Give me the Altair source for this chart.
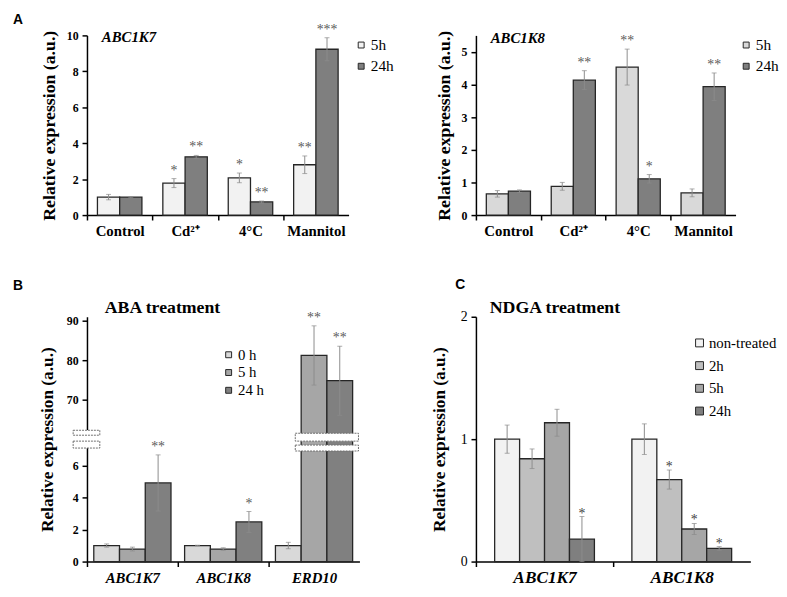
import altair as alt
import pandas as pd

SERIF = "Liberation Serif"
SANS = "Liberation Sans"

# ---------------- data ----------------
stress = ["Control", "Cd²⁺", "4°C", "Mannitol"]
a_times = ["5h", "24h"]

k7_mean_5h = [1.00, 1.78, 2.07, 2.80]
k7_err_5h = [0.15, 0.25, 0.27, 0.49]
k7_sig_5h = ["", "*", "*", "**"]
k7_mean_24h = [1.00, 3.24, 0.73, 9.23]
k7_err_24h = [0.03, 0.08, 0.05, 0.64]
k7_sig_24h = ["", "**", "**", "***"]

k8_mean_5h = [0.65, 0.88, 4.53, 0.68]
k8_err_5h = [0.10, 0.12, 0.55, 0.12]
k8_sig_5h = ["", "", "**", ""]
k8_mean_24h = [0.73, 4.13, 1.11, 3.93]
k8_err_24h = [0.04, 0.29, 0.13, 0.42]
k8_sig_24h = ["", "**", "*", "**"]

aba_genes = ["ABC1K7", "ABC1K8", "ERD10"]
aba_times = ["0 h", "5 h", "24 h"]
aba_mean_0h = [1.00, 1.00, 1.00]
aba_err_0h = [0.10, 0.02, 0.20]
aba_sig_0h = ["", "", ""]
aba_mean_5h = [0.78, 0.78, 81.2]
aba_err_5h = [0.12, 0.08, 7.5]
aba_sig_5h = ["", "", "**"]
aba_mean_24h = [4.90, 2.47, 74.8]
aba_err_24h = [1.75, 0.65, 8.75]
aba_sig_24h = ["**", "*", "**"]

ndga_genes = ["ABC1K7", "ABC1K8"]
ndga_times = ["non-treated", "2h", "5h", "24h"]
ndga_mean_nt = [1.00, 1.00]
ndga_err_nt = [0.115, 0.125]
ndga_sig_nt = ["", ""]
ndga_mean_2h = [0.84, 0.67]
ndga_err_2h = [0.08, 0.078]
ndga_sig_2h = ["", "*"]
ndga_mean_5h = [1.134, 0.266]
ndga_err_5h = [0.11, 0.045]
ndga_sig_5h = ["", "*"]
ndga_mean_24h = [0.183, 0.107]
ndga_err_24h = [0.185, 0.015]
ndga_sig_24h = ["*", "*"]


def long_df(cats, groups, means, errs, sigs):
    rows = []
    for g, m, e, s in zip(groups, means, errs, sigs):
        for c, mv, ev, sv in zip(cats, m, e, s):
            rows.append({"cat": c, "grp": g, "mean": mv, "lo": max(mv - ev, 0), "hi": mv + ev, "sig": sv})
    return pd.DataFrame(rows)


dfA1 = long_df(stress, a_times, [k7_mean_5h, k7_mean_24h], [k7_err_5h, k7_err_24h], [k7_sig_5h, k7_sig_24h])
dfA2 = long_df(stress, a_times, [k8_mean_5h, k8_mean_24h], [k8_err_5h, k8_err_24h], [k8_sig_5h, k8_sig_24h])
dfB = long_df(aba_genes, aba_times, [aba_mean_0h, aba_mean_5h, aba_mean_24h],
              [aba_err_0h, aba_err_5h, aba_err_24h], [aba_sig_0h, aba_sig_5h, aba_sig_24h])
dfC = long_df(ndga_genes, ndga_times, [ndga_mean_nt, ndga_mean_2h, ndga_mean_5h, ndga_mean_24h],
              [ndga_err_nt, ndga_err_2h, ndga_err_5h, ndga_err_24h],
              [ndga_sig_nt, ndga_sig_2h, ndga_sig_5h, ndga_sig_24h])


def y_axis(values, label_size, label_weight, title_size, title_pad, label_expr=None, fmt=None):
    kw = dict(values=values, title="Relative expression (a.u.)", titleFont=SERIF,
              titleFontSize=title_size, titleFontWeight="bold", titleColor="black",
              titlePadding=title_pad, labelFont=SERIF, labelFontSize=label_size,
              labelFontWeight=label_weight, labelColor="black", labelPadding=4,
              domainColor="black", domainWidth=1.5, tickColor="black", tickWidth=1.5,
              tickSize=5, grid=False)
    if label_expr:
        kw["labelExpr"] = label_expr
    if fmt:
        kw["format"] = fmt
    return alt.Axis(**kw)


def grouped_layers(df, cats, groups, colors, width, pad_inner, y_scale, yax,
                   x_label_kw, legend, star_kw, ycols=("mean", "lo", "hi"), transform=None):
    step = width / len(cats)
    bw = step * (1 - pad_inner) / len(groups)
    x = alt.X("cat:N", title=None,
              scale=alt.Scale(type="band", domain=cats, paddingInner=pad_inner, paddingOuter=pad_inner / 2),
              axis=alt.Axis(labelAngle=0, bandPosition=0.5, tickOffset=-step / 2,
                            labelOffset=step / 2, domainColor="black", domainWidth=1.5,
                            tickColor="black", tickWidth=1.5, tickSize=5, labelColor="black",
                            labelFont=SERIF, grid=False, **x_label_kw))
    col = alt.Color("grp:N", scale=alt.Scale(domain=groups, range=colors), legend=legend)
    ym, ylo, yhi = ycols

    def Y(f):
        return alt.Y(f"{f}:Q", scale=y_scale, axis=yax, stack=None)

    base = alt.Chart(df)
    if transform:
        base = base.transform_calculate(**transform)
    layers = []
    n = len(groups)
    for k, g in enumerate(groups):
        off = (k - (n - 1) / 2) * bw
        sub = base.transform_filter(alt.datum.grp == g)
        layers.append(sub.mark_bar(width=bw, xOffset=off, stroke="#262626", strokeWidth=1.3).encode(
            x=x, y=Y(ym), color=col))
    for k, g in enumerate(groups):
        off = (k - (n - 1) / 2) * bw
        sub = base.transform_filter(alt.datum.grp == g)
        layers.append(sub.mark_rule(xOffset=off, color="#8c8c8c", strokeWidth=1).encode(
            x=x, y=Y(ylo), y2=f"{yhi}:Q"))
        for f in (ylo, yhi):
            layers.append(sub.mark_tick(orient="horizontal", size=5, thickness=1, xOffset=off,
                                        color="#8c8c8c").encode(x=x, y=Y(f)))
        layers.append(sub.mark_text(baseline="bottom", font=SERIF, xOffset=off, **star_kw).encode(
            x=x, y=Y(yhi), text="sig:N"))
    return layers


def label(text, x, y, font=SERIF, size=15, weight="bold", style="normal",
          baseline="alphabetic", align="left", color="black"):
    return alt.Chart(pd.DataFrame({"t": [text]})).mark_text(
        font=font, fontSize=size, fontWeight=weight, fontStyle=style,
        baseline=baseline, align=align, color=color).encode(
        text="t:N", x=alt.value(x), y=alt.value(y))


def box(x1, x2, y1, y2, stroke=True):
    kw = dict(fill="white")
    if stroke:
        kw.update(stroke="#6e6e6e", strokeWidth=1, strokeDash=[2, 1])
    return alt.Chart(pd.DataFrame({"b": [0]})).mark_rect(**kw).encode(
        x=alt.value(x1), x2=alt.value(x2), y=alt.value(y1), y2=alt.value(y2))


def legend(x, y, size, font_size, row_pad):
    return alt.Legend(title=None, orient="none", legendX=x, legendY=y, symbolType="square",
                      symbolSize=size, symbolStrokeColor="#262626", symbolStrokeWidth=1,
                      labelFont=SERIF, labelFontSize=font_size, labelColor="black",
                      rowPadding=row_pad, labelOffset=2, padding=0)


star_a = dict(fontSize=14, color="#5a5a5a", dy=-1)
xlab_a = dict(labelFontSize=15, labelFontWeight="bold", labelPadding=4)

# ---------------- Panel A (ABC1K7) ----------------
WA1, HA = 265, 182
A1 = alt.layer(
    *grouped_layers(dfA1, stress, a_times, ["#f2f2f2", "#7f7f7f"], WA1, 0.32,
                    alt.Scale(domain=[0, 10], nice=False),
                    y_axis([0, 2, 4, 6, 8, 10], 12, "bold", 18, 8),
                    xlab_a, legend(270, 2, 36, 15.5, 4.5), star_a),
    label("ABC1K7", 15, 7, style="italic"),
    label("A", -75, -23, font=SANS, size=14, baseline="top"),
).properties(width=WA1, height=HA)

# ---------------- Panel A (ABC1K8) ----------------
WA2 = 263
A2 = alt.layer(
    *grouped_layers(dfA2, stress, a_times, ["#d9d9d9", "#7f7f7f"], WA2, 0.32,
                    alt.Scale(domain=[0, 5.5], nice=False),
                    y_axis([0, 1, 2, 3, 4, 5], 12, "bold", 18, 8),
                    xlab_a, legend(266, 2, 36, 15.5, 4.5), star_a),
    label("ABC1K8", 15, 8, style="italic"),
).properties(width=WA2, height=HA)

# ---------------- Panel B (ABA, broken axis) ----------------
WB, HB = 276, 248
brk = ("datum.{f} <= 30 ? datum.{f} * 16.25 : 124 + (datum.{f} - 60) * 4")
transB = {"tm": brk.format(f="mean"), "tl": brk.format(f="lo"), "th": brk.format(f="hi")}
b_expr = "datum.value < 120 ? round(datum.value / 16.25) : round(60 + (datum.value - 124) / 4)"
B = alt.layer(
    *grouped_layers(dfB, aba_genes, aba_times, ["#d9d9d9", "#a6a6a6", "#808080"], WB, 0.15,
                    alt.Scale(domain=[0, HB], nice=False),
                    y_axis([0, 32.5, 65, 97.5, 164, 204, 244], 12, "bold", 17.5, 10, b_expr),
                    dict(labelFontSize=15, labelFontWeight="bold", labelFontStyle="italic", labelPadding=4),
                    legend(136, 31, 36, 15, 2), star_a, ycols=("tm", "tl", "th"), transform=transB),
    box(-3, 3, 115, 133, stroke=False),
    box(-14, 13, 115, 120),
    box(-14, 13, 126, 133),
    box(211, 275, 118, 126),
    box(211, 275, 130, 136),
    label("ABA treatment", 18, -4, size=18),
    label("B", -75, -38, font=SANS, size=14, baseline="top"),
).properties(width=WB, height=HB)

# ---------------- Panel C (NDGA) ----------------
WC, HC = 278, 248
C = alt.layer(
    *grouped_layers(dfC, ndga_genes, ndga_times, ["#f2f2f2", "#bfbfbf", "#a6a6a6", "#7f7f7f"], WC, 0.273,
                    alt.Scale(domain=[0, 2], nice=False),
                    y_axis([0, 1, 2], 14, "normal", 17.5, 12, fmt=".0f"),
                    dict(labelFontSize=17.5, labelFontWeight="bold", labelFontStyle="italic", labelPadding=2),
                    legend(219, 19, 64, 15, 7), dict(fontSize=14, color="#404040", dy=4)),
    label("NDGA treatment", 14, -4, size=18),
    label("C", -21, -39, font=SANS, size=14, baseline="top"),
).properties(width=WC, height=HC)

chart = alt.concat(A1, A2, B, C, columns=2, spacing={"row": 103, "column": 118}, bounds="flush").resolve_scale(
    color="independent").properties(
    padding={"left": 4, "top": 0, "right": -1, "bottom": -3}).configure_view(stroke="transparent")

chart.save("out.html", embed_options={"renderer": "svg", "actions": False})
